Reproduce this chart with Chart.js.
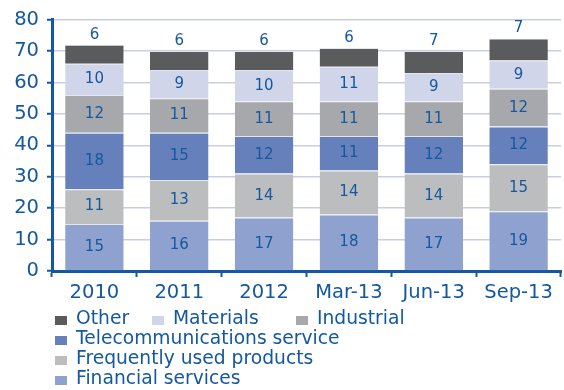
<!DOCTYPE html>
<html>
<head>
<meta charset="utf-8">
<script src="https://cdn.jsdelivr.net/npm/chart.js@4.4.0/dist/chart.umd.min.js"></script>
<style>
    html, body { margin: 0; padding: 0; background: #fff; }
    #contenedor { position: relative; width: 564px; height: 390px; }
    #leyenda { position: absolute; left: 0; top: 308px; width: 564px; font-family: 'DejaVu Sans', sans-serif; font-size: 18.7px; color: #1458a0; }
    .item { position: absolute; white-space: nowrap; line-height: 20px; }
    .item i { position: absolute; left: 0; top: 8px; width: 12px; height: 9px; }
    .item span { position: absolute; left: 21px; top: 0; }
</style>
</head>
<body>
<div id="contenedor">
    <canvas id="grafico" width="564" height="310"></canvas>
    <div id="leyenda"></div>
</div>
<script>
// Categorías y valores (de abajo hacia arriba en cada barra)
const categorias = ['2010', '2011', '2012', 'Mar-13', 'Jun-13', 'Sep-13'];
const financieros = [15, 16, 17, 18, 17, 19];
const consumo = [11, 13, 14, 14, 14, 15];
const telecom = [18, 15, 12, 11, 12, 12];
const industrial = [12, 11, 11, 11, 11, 12];
const materiales = [10, 9, 10, 11, 9, 9];
const otros = [6, 6, 6, 6, 7, 7];
const ticksY = [0, 10, 20, 30, 40, 50, 60, 70, 80];

const AZUL = '#1458a0';
const FUENTE = "'DejaVu Sans', sans-serif";

const series = [
    { label: 'Financial services', data: financieros, color: '#8fa2cf' },
    { label: 'Frequently used products', data: consumo, color: '#bcbdbf' },
    { label: 'Telecommunications service', data: telecom, color: '#6580ba' },
    { label: 'Industrial', data: industrial, color: '#a7a8ab' },
    { label: 'Materials', data: materiales, color: '#d0d5e9' },
    { label: 'Other', data: otros, color: '#5a5b5d' }
];

// Etiquetas de valor: dentro del segmento, la última serie encima de la barra
const etiquetasValor = {
    id: 'etiquetasValor',
    afterDatasetsDraw(chart) {
        const ctx = chart.ctx;
        ctx.save();
        ctx.font = '15px ' + FUENTE;
        ctx.fillStyle = AZUL;
        ctx.textAlign = 'center';
        ctx.textBaseline = 'middle';
        const ultimo = chart.data.datasets.length - 1;
        chart.data.datasets.forEach((ds, i) => {
            chart.getDatasetMeta(i).data.forEach((barra, j) => {
                const y = i === ultimo ? barra.y - 10 : (barra.y + barra.base) / 2;
                ctx.fillText(ds.data[j], barra.x, y);
            });
        });
        ctx.restore();
    }
};

new Chart(document.getElementById('grafico'), {
    type: 'bar',
    data: {
        labels: categorias,
        datasets: series.map(s => ({
            label: s.label,
            data: s.data,
            backgroundColor: s.color,
            borderColor: '#e4e7f1',
            borderWidth: { top: 1 },
            borderSkipped: 'bottom',
            barPercentage: 0.69,
            categoryPercentage: 1
        }))
    },
    options: {
        responsive: false,
        animation: false,
        layout: { padding: { top: 7, right: 3, left: 0, bottom: 0 } },
        plugins: {
            legend: { display: false },
            tooltip: { enabled: false }
        },
        scales: {
            x: {
                stacked: true,
                afterFit: scale => { scale.height = 39; },
                grid: { display: true, drawOnChartArea: false, offset: true, tickLength: 6, tickColor: AZUL, tickWidth: 2 },
                border: { color: AZUL, width: 3 },
                ticks: { color: AZUL, padding: 4, font: { family: FUENTE, size: 19.5 } }
            },
            y: {
                stacked: true,
                min: 0,
                max: 80,
                afterFit: scale => { scale.width = 52; },
                afterBuildTicks: scale => { scale.ticks = ticksY.map(v => ({ value: v })); },
                grid: { color: '#c9cde3', lineWidth: 1.5, tickLength: 5, tickColor: AZUL, tickWidth: 2 },
                border: { color: AZUL, width: 3 },
                ticks: { color: AZUL, padding: 8, font: { family: FUENTE, size: 19.5 } }
            }
        }
    },
    plugins: [etiquetasValor]
});

// Leyenda en HTML, con el mismo orden que la original
const posiciones = {
    'Other': [55, 0],
    'Materials': [152, 0],
    'Industrial': [296, 0],
    'Telecommunications service': [55, 20],
    'Frequently used products': [55, 40],
    'Financial services': [55, 60]
};
document.getElementById('leyenda').innerHTML = series.slice().reverse().map(s => {
    const [x, y] = posiciones[s.label];
    return `<div class="item" style="left:${x}px; top:${y}px;"><i style="background:${s.color}"></i><span>${s.label}</span></div>`;
}).join('');
</script>
</body>
</html>
